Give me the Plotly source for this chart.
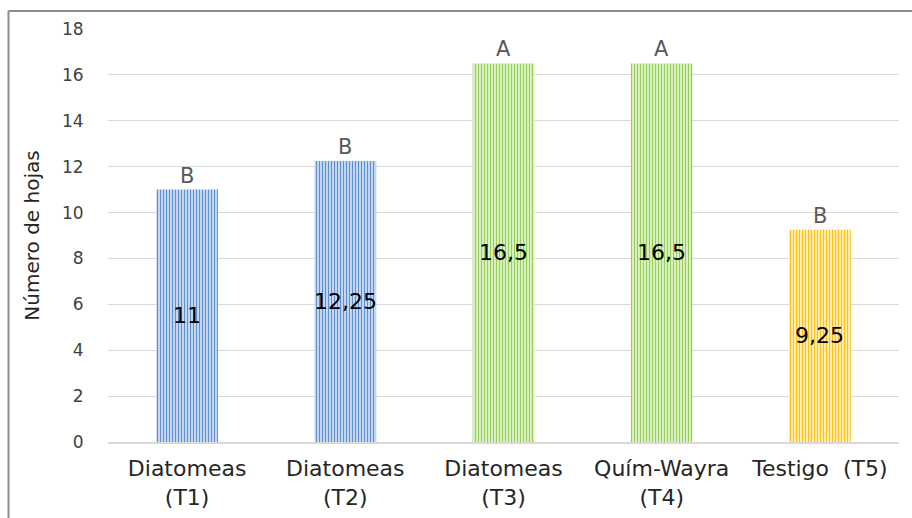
import plotly.graph_objects as go

# Tratamientos y número medio de hojas
categorias = ["Diatomeas<br>(T1)", "Diatomeas<br>(T2)", "Diatomeas<br>(T3)",
              "Quím-Wayra<br>(T4)", "Testigo  (T5)"]
valores = [11, 12.25, 16.5, 16.5, 9.25]
etiquetas_valor = ["11", "12,25", "16,5", "16,5", "9,25"]
letras = ["B", "B", "A", "A", "B"]

color_linea = ["#5b8fd2", "#5b8fd2", "#94d152", "#94d152", "#ffc210"]
color_fondo = ["#dbe7f6", "#dbe7f6", "#e8f6da", "#e8f6da", "#fff4cc"]

FONT = "DejaVu Sans, Verdana, sans-serif"

fig = go.Figure()
# Una traza por barra para que cada una lleve su propio rayado vertical
for cat, v, fg, bg in zip(categorias, valores, color_linea, color_fondo):
    fig.add_trace(go.Bar(
        x=[cat], y=[v], width=0.39,
        marker=dict(
            color=bg,
            line=dict(width=0),
            pattern=dict(shape="|", fgcolor=fg, fgopacity=1,
                         size=3, solidity=0.45, fillmode="overlay"),
        ),
        hoverinfo="skip",
    ))

# Valor en el centro de cada barra y letra de significancia encima
for cat, v, txt, letra in zip(categorias, valores, etiquetas_valor, letras):
    fig.add_annotation(x=cat, y=v / 2, text=txt, showarrow=False,
                       font=dict(family=FONT, size=22, color="#000000"),
                       xanchor="center", yanchor="middle")
    fig.add_annotation(x=cat, y=v, text=letra, showarrow=False,
                       font=dict(family=FONT, size=21, color="#595959"),
                       xanchor="center", yanchor="bottom", yshift=0)

# Marco exterior del gráfico
fig.add_shape(type="line", xref="paper", yref="paper",
              x0=-0.1258, x1=1.02, y0=1.0438, y1=1.0438,
              line=dict(color="#8c8c8c", width=2))
fig.add_shape(type="line", xref="paper", yref="paper",
              x0=-0.1258, x1=-0.1258, y0=1.0438, y1=-0.2,
              line=dict(color="#8c8c8c", width=2))

fig.update_layout(
    width=912, height=518,
    margin=dict(l=108, r=13, t=29, b=76),
    paper_bgcolor="white", plot_bgcolor="white",
    showlegend=False,
    barmode="overlay",
    font=dict(family=FONT),
    xaxis=dict(
        automargin=False,
        showgrid=False,
        showline=True, linecolor="#d9d9d9", linewidth=1.5,
        ticks="outside", ticklen=6, tickcolor="rgba(0,0,0,0)",
        tickfont=dict(family=FONT, size=22, color="#262626"),
        fixedrange=True,
    ),
    yaxis=dict(
        automargin=False,
        range=[0, 18],
        dtick=2,
        showgrid=True, gridcolor="#d9d9d9", gridwidth=1,
        zeroline=False,
        ticks="outside", ticklen=20, tickcolor="rgba(0,0,0,0)",
        tickfont=dict(family=FONT, size=17, color="#404040"),
        title=dict(text="Número de hojas", standoff=16,
                   font=dict(family=FONT, size=20, color="#262626")),
        fixedrange=True,
    ),
)

fig.write_html("out.html")
